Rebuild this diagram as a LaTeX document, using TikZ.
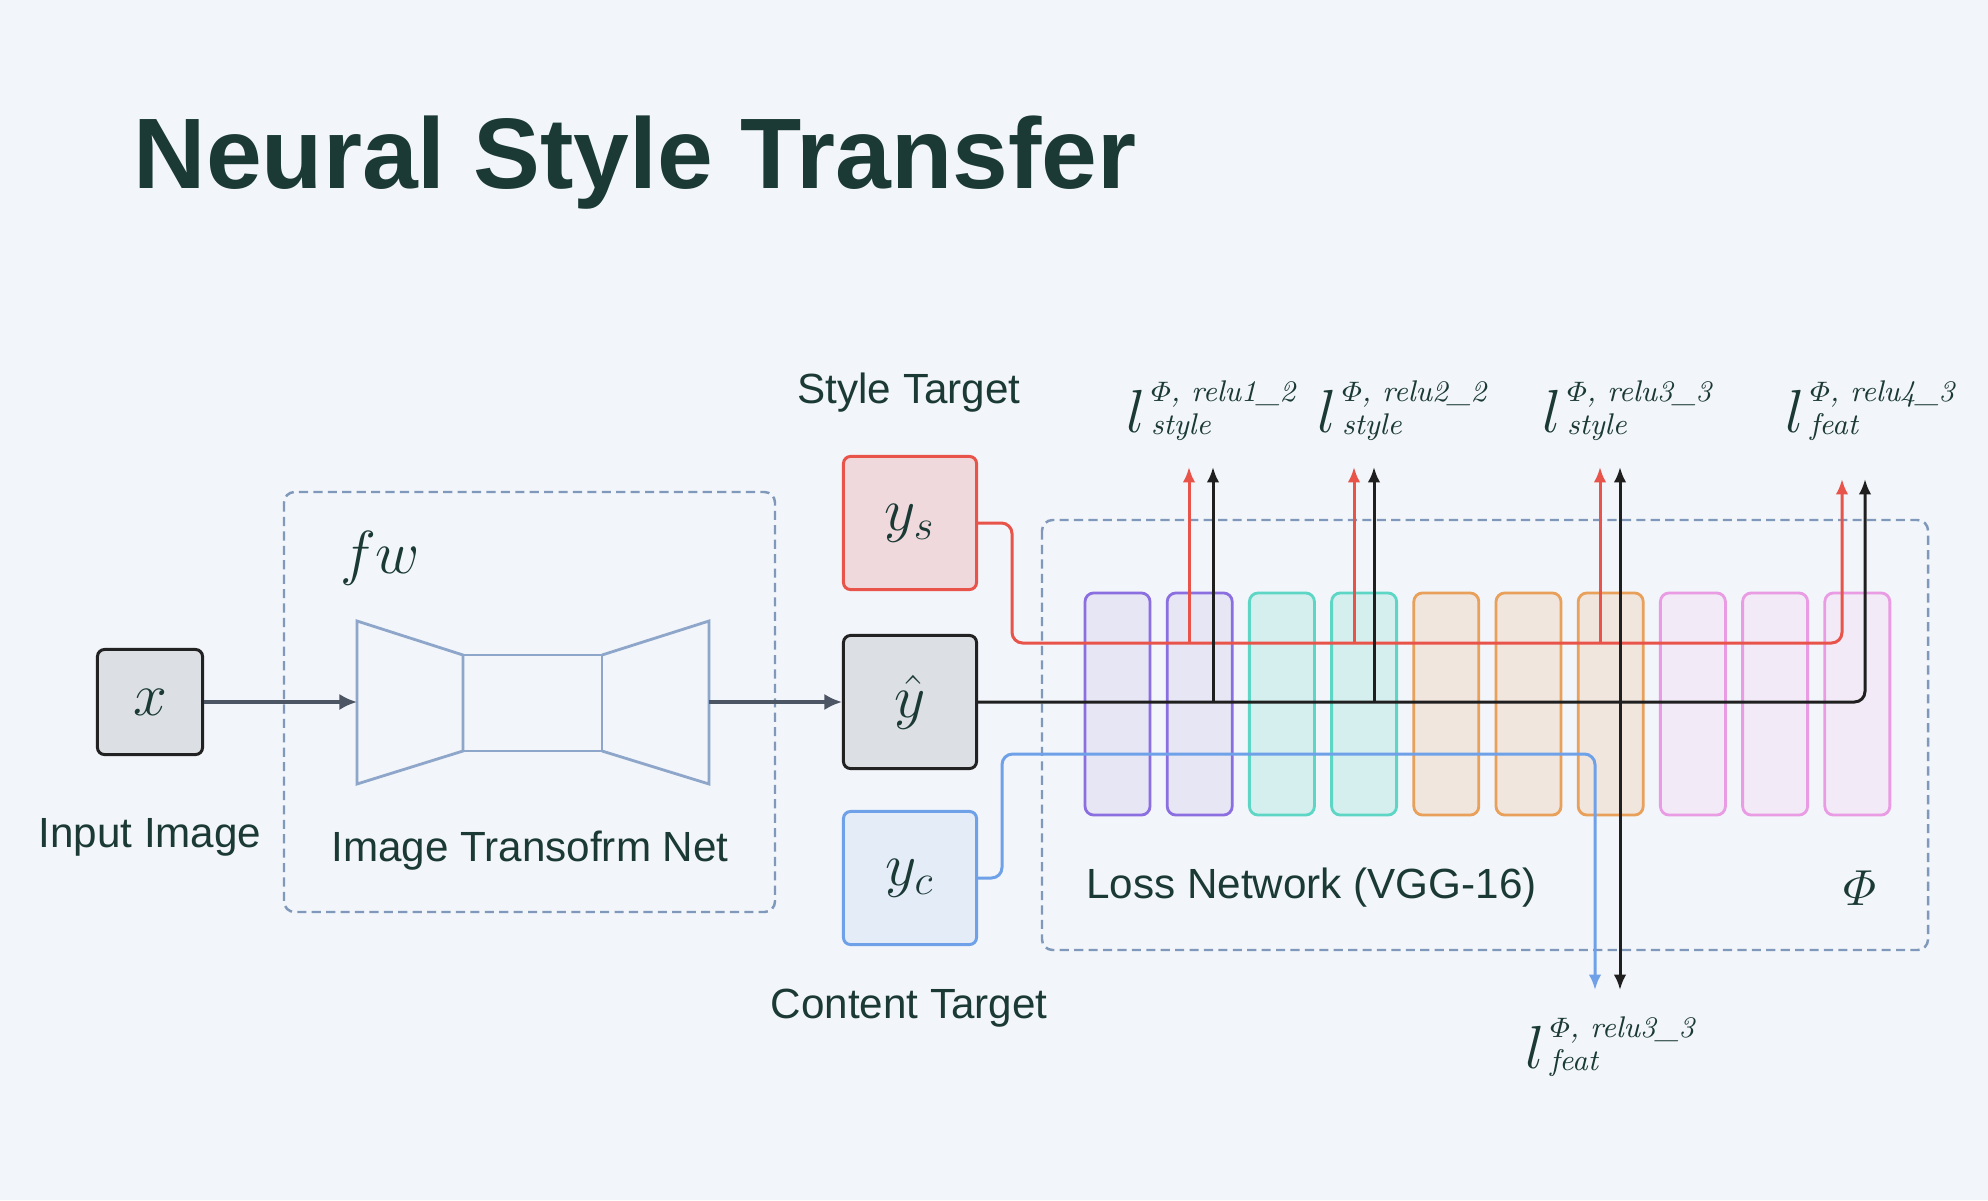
\documentclass[tikz,border=0pt]{standalone}
\usepackage{amsmath,fontspec}
\usetikzlibrary{arrows.meta,calc}
\newfontfamily\labelfont{Liberation Sans}
\definecolor{bgcol}{HTML}{F2F5FA}
\definecolor{ink}{HTML}{1B3A35}
\definecolor{groupcol}{HTML}{8099BB}
\definecolor{netcol}{HTML}{8DA6C9}
\definecolor{slate}{HTML}{4B5563}
\definecolor{boxline}{HTML}{222222}
\definecolor{boxfill}{HTML}{DCDFE3}
\definecolor{stylered}{HTML}{E8534A}
\definecolor{stylefill}{HTML}{EFD9DD}
\definecolor{contentblue}{HTML}{6FA1E8}
\definecolor{contentfill}{HTML}{E3ECF7}
\definecolor{featblack}{HTML}{1F1F1F}
\definecolor{purpleline}{HTML}{8B6FE0}
\definecolor{purplefill}{HTML}{E6E6F5}
\definecolor{tealline}{HTML}{5DD6C5}
\definecolor{tealfill}{HTML}{D4EFEE}
\definecolor{orangeline}{HTML}{E8A05B}
\definecolor{orangefill}{HTML}{F0E6DD}
\definecolor{pinkline}{HTML}{E99BE3}
\definecolor{pinkfill}{HTML}{F2EAF6}
\newcommand{\suptext}{\fontsize{8.5}{9.5}\selectfont\itshape}
\newcommand{\lossterm}[2]{$l$\kern1.5pt\raisebox{-0.8pt}{\suptext\begin{tabular}[b]{@{}l@{}}$\varPhi$, #1\\#2\end{tabular}}}

\begin{document}
\begin{tikzpicture}[x=0.01cm, y=-0.01cm,
  txt/.style={font=\labelfont\fontsize{12}{14}\selectfont, text=ink},
  mathtxt/.style={font=\fontsize{18}{18}\selectfont, text=ink},
  losstxt/.style={font=\fontsize{18}{18}\selectfont, text=ink, inner sep=0pt},
  databox/.style={mathtxt, line width=0.85pt, rounded corners=2pt, minimum width=1.33cm, minimum height=1.33cm},
  layer/.style={draw=#1line, fill=#1fill, line width=0.8pt, rounded corners=2.5pt, minimum width=0.65cm, minimum height=2.22cm, inner sep=0pt},
  groupbox/.style={draw=groupcol, line width=0.7pt, dash pattern=on 2.6pt off 1.5pt, rounded corners=3pt},
  netline/.style={draw=netcol, line width=0.8pt, line join=miter},
  flow/.style={draw=slate, line width=0.9pt, -{Latex[length=5pt,width=4.6pt]}},
  tap/.style={line width=0.85pt, rounded corners=3pt, -{Latex[length=4.4pt,width=3.6pt]}}]

  \useasboundingbox (0,0) rectangle (1988,1200);
  \fill[bgcol] (0,0) rectangle (1988,1200);

  \node[anchor=base west, font=\labelfont\bfseries\fontsize{28.5}{30}\selectfont, text=ink, inner sep=0pt] (title) at (133,188) {Neural Style Transfer};

  \node[databox, draw=boxline, fill=boxfill, minimum width=1.05cm, minimum height=1.05cm] (x) at (150,702) {$x$};
  \node[txt] (inlab) at (150,837) {Input Image};

  \draw[groupbox] (284,492) rectangle (775,912);
  \node[mathtxt] (fw) at (380,558) {$fw$};
  \draw[netline] (357,621) -- (463,655) -- (463,751) -- (357,784) -- cycle;
  \draw[netline] (463,655) rectangle (602,751);
  \draw[netline] (602,655) -- (709,621) -- (709,784) -- (602,751);
  \coordinate (enc) at (357,702);
  \coordinate (dec) at (709,702);
  \node[txt] (netlab) at (530,851) {Image Transofrm Net};

  \node[databox, draw=stylered, fill=stylefill] (ys) at (910,523) {$y_s$};
  \node[databox, draw=boxline, fill=boxfill] (yhat) at (910,702) {$\hat{y}$};
  \node[databox, draw=contentblue, fill=contentfill] (yc) at (910,878) {$y_c$};
  \node[txt] (stylelab) at (909,393) {Style Target};
  \node[txt] (contentlab) at (909,1008) {Content Target};

  \draw[flow] (x) -- (enc);
  \draw[flow] (dec) -- (yhat);

  \draw[groupbox] (1042,520) rectangle (1928,950);
  \foreach \i/\c in {1/purple,2/purple,3/teal,4/teal,5/orange,6/orange,7/orange,8/pink,9/pink,10/pink}
    \node[layer=\c] (L\i) at ({1035.3+82.2*\i},704) {};
  \node[txt, anchor=west] (losslab) at (1074,888) {Loss Network (VGG-16)};
  \node[font=\fontsize{14}{14}\selectfont, text=ink] (phi) at (1860,888) {$\varPhi$};

  \coordinate (rbus) at (1012,643);
  \coordinate (cbus) at (1002,754);
  \coordinate (s1) at (1189,467);
  \coordinate (s2) at (1354,467);
  \coordinate (s3) at (1600,467);
  \coordinate (s4) at (1842,479);
  \coordinate (k1) at (1213,467);
  \coordinate (k2) at (1374,467);
  \coordinate (k3) at (1620,467);
  \coordinate (k4) at (1865,479);
  \coordinate (fc) at (1595,990);
  \coordinate (fk) at (1620,990);

  \draw[tap, stylered] (ys.east) -| (rbus) -| (s4);
  \foreach \n in {s1,s2,s3}
    \draw[tap, stylered] (\n |- rbus) -- (\n);
  \draw[tap, featblack] (yhat.east) -| (k4);
  \foreach \n in {k1,k2,k3,fk}
    \draw[tap, featblack] (\n |- yhat) -- (\n);
  \draw[tap, contentblue] (yc.east) -| (cbus) -| (fc);

  \node[losstxt, anchor=base west] (t1) at (1126,432) {\lossterm{relu1\_2}{style}};
  \node[losstxt, anchor=base west] (t2) at (1317,432) {\lossterm{relu2\_2}{style}};
  \node[losstxt, anchor=base west] (t3) at (1542,432) {\lossterm{relu3\_3}{style}};
  \node[losstxt, anchor=base west] (t4) at (1785,432) {\lossterm{relu4\_3}{feat}};
  \node[losstxt, anchor=base west] (t5) at (1525,1068) {\lossterm{relu3\_3}{feat}};
\end{tikzpicture}
\end{document}
